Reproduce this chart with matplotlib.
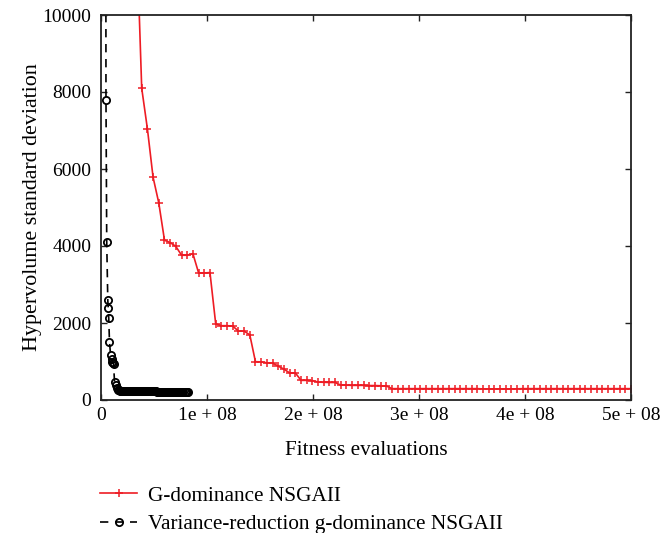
import matplotlib
matplotlib.use("Agg")
import matplotlib.pyplot as plt
from matplotlib.ticker import FixedLocator, FixedFormatter

plt.rcParams["font.family"] = ["Liberation Serif", "DejaVu Serif"]

# Fitness evaluations (units of 1e8) and hypervolume std-dev, G-dominance NSGAII
g_evals = [0.330, 0.384, 0.438, 0.491, 0.545, 0.599, 0.652, 0.706, 0.760, 0.813,
           0.867, 0.921, 0.974, 1.028, 1.082, 1.135, 1.189, 1.243, 1.296, 1.350,
           1.404, 1.457, 1.511, 1.565, 1.618, 1.672, 1.726, 1.779, 1.833, 1.887,
           1.940, 1.994, 2.048, 2.101, 2.155, 2.209, 2.262, 2.316, 2.370, 2.423,
           2.477, 2.531, 2.584, 2.638, 2.692, 2.745, 2.799, 2.853, 2.906, 2.960,
           3.014, 3.067, 3.121, 3.175, 3.228, 3.282, 3.336, 3.389, 3.443, 3.497,
           3.550, 3.604, 3.658, 3.711, 3.765, 3.819, 3.872, 3.926, 3.980, 4.033,
           4.087, 4.141, 4.194, 4.248, 4.302, 4.355, 4.409, 4.463, 4.516, 4.570,
           4.624, 4.677, 4.731, 4.785, 4.838, 4.892, 4.946, 5.000]
g_std = [12600, 8100, 7040, 5790, 5120, 4150, 4090, 3990, 3760, 3760,
         3800, 3300, 3300, 3310, 1980, 1930, 1930, 1920, 1790, 1790,
         1690, 995, 990, 965, 960, 880, 800, 705, 705, 510,
         510, 505, 465, 460, 455, 455, 385, 385, 380, 380,
         380, 375, 375, 370, 365, 295, 295, 295, 295, 295,
         295, 295, 295, 295, 295, 295, 295, 295, 295, 295,
         295, 288, 288, 288, 288, 288, 288, 290, 295, 295,
         295, 295, 295, 295, 295, 295, 295, 295, 295, 295,
         295, 295, 295, 295, 295, 295, 295, 295]

# Variance-reduction g-dominance NSGAII (evaluations in millions)
vr_evals = [4.0, 4.7, 5.4, 6.4, 6.8, 7.3, 8.0, 9.0, 10.0, 10.6,
            11.2, 11.8, 12.8, 13.8, 14.8,
            15.8, 16.8, 17.8, 18.8, 19.8, 20.8, 21.8, 22.8, 23.8, 24.8,
            25.8, 26.8, 27.8, 28.8, 29.8, 30.8, 31.8, 32.8, 33.8, 34.8,
            35.8, 36.8, 37.8, 38.8, 39.8, 40.8, 41.8, 42.8, 43.8, 44.8,
            45.8, 46.8, 47.8, 48.8, 49.8, 50.8, 51.8, 52.8, 53.8, 54.8,
            55.8, 56.8, 57.8, 58.8, 59.8, 60.8, 61.8, 62.8, 63.8, 64.8,
            65.8, 66.8, 67.8, 68.8, 69.8, 70.8, 71.8, 72.8, 73.8, 74.8,
            75.8, 76.8, 77.8, 78.8, 79.8, 80.8, 81.8]
vr_std = [30000, 7800, 4110, 2600, 2400, 2130, 1515, 1180, 1060, 1000,
          960, 940, 460, 380, 300,
          262, 250, 246, 244, 243, 242, 244, 241, 240, 242,
          239, 238, 240, 243, 245, 244, 241, 238, 236, 235,
          236, 234, 232, 233, 231, 230, 228, 229, 227, 226,
          225, 225, 224, 223, 222, 222, 221, 220, 219, 219,
          218, 217, 216, 216, 215, 214, 214, 213, 212, 212,
          211, 210, 210, 209, 208, 208, 207, 207, 206, 206,
          205, 205, 206, 204, 205, 206, 205]

x_ticks = [0, 1e8, 2e8, 3e8, 4e8, 5e8]
x_tick_labels = ["0", "1e + 08", "2e + 08", "3e + 08", "4e + 08", "5e + 08"]
y_ticks = [0, 2000, 4000, 6000, 8000, 10000]
y_tick_labels = ["0", "2000", "4000", "6000", "8000", "10000"]

fig = plt.figure(figsize=(6.67, 5.33), dpi=100)
ax = fig.add_axes([101 / 667, 1 - 400 / 533, 530 / 667, 385 / 533])

ax.plot([v * 1e8 for v in g_evals], g_std, color="#ee1c24", lw=1.2,
        marker="+", markersize=6, markeredgewidth=1.1,
        label="G-dominance NSGAII")
ax.plot([v * 1e6 for v in vr_evals], vr_std, color="black", lw=1.2,
        linestyle=(0, (5, 4)), marker="o", markersize=5.2,
        markerfacecolor="none", markeredgewidth=1.3,
        label="Variance-reduction g-dominance NSGAII")

ax.set_xlim(0, 5e8)
ax.set_ylim(0, 10000)
ax.xaxis.set_major_locator(FixedLocator(x_ticks))
ax.xaxis.set_major_formatter(FixedFormatter(x_tick_labels))
ax.yaxis.set_major_locator(FixedLocator(y_ticks))
ax.yaxis.set_major_formatter(FixedFormatter(y_tick_labels))
ax.tick_params(direction="in", length=4, width=1.0, top=True, right=True,
               labelsize=14, color="#222222")
ax.tick_params(axis="x", pad=5)
ax.tick_params(axis="y", pad=7)
for s in ax.spines.values():
    s.set_linewidth(1.3)
    s.set_color("#222222")

ax.set_xlabel("Fitness evaluations", fontsize=15.3, labelpad=12)
ax.set_ylabel("Hypervolume standard deviation", fontsize=15.8, labelpad=0)

fig.legend(loc="upper left", bbox_to_anchor=(100 / 667, 1 - 486 / 533),
           frameon=False, fontsize=15.3, handlelength=1.75,
           handletextpad=0.5, labelspacing=0.4, borderpad=0, borderaxespad=0,
           markerscale=1.0)

fig.savefig("out.png", dpi=100)
